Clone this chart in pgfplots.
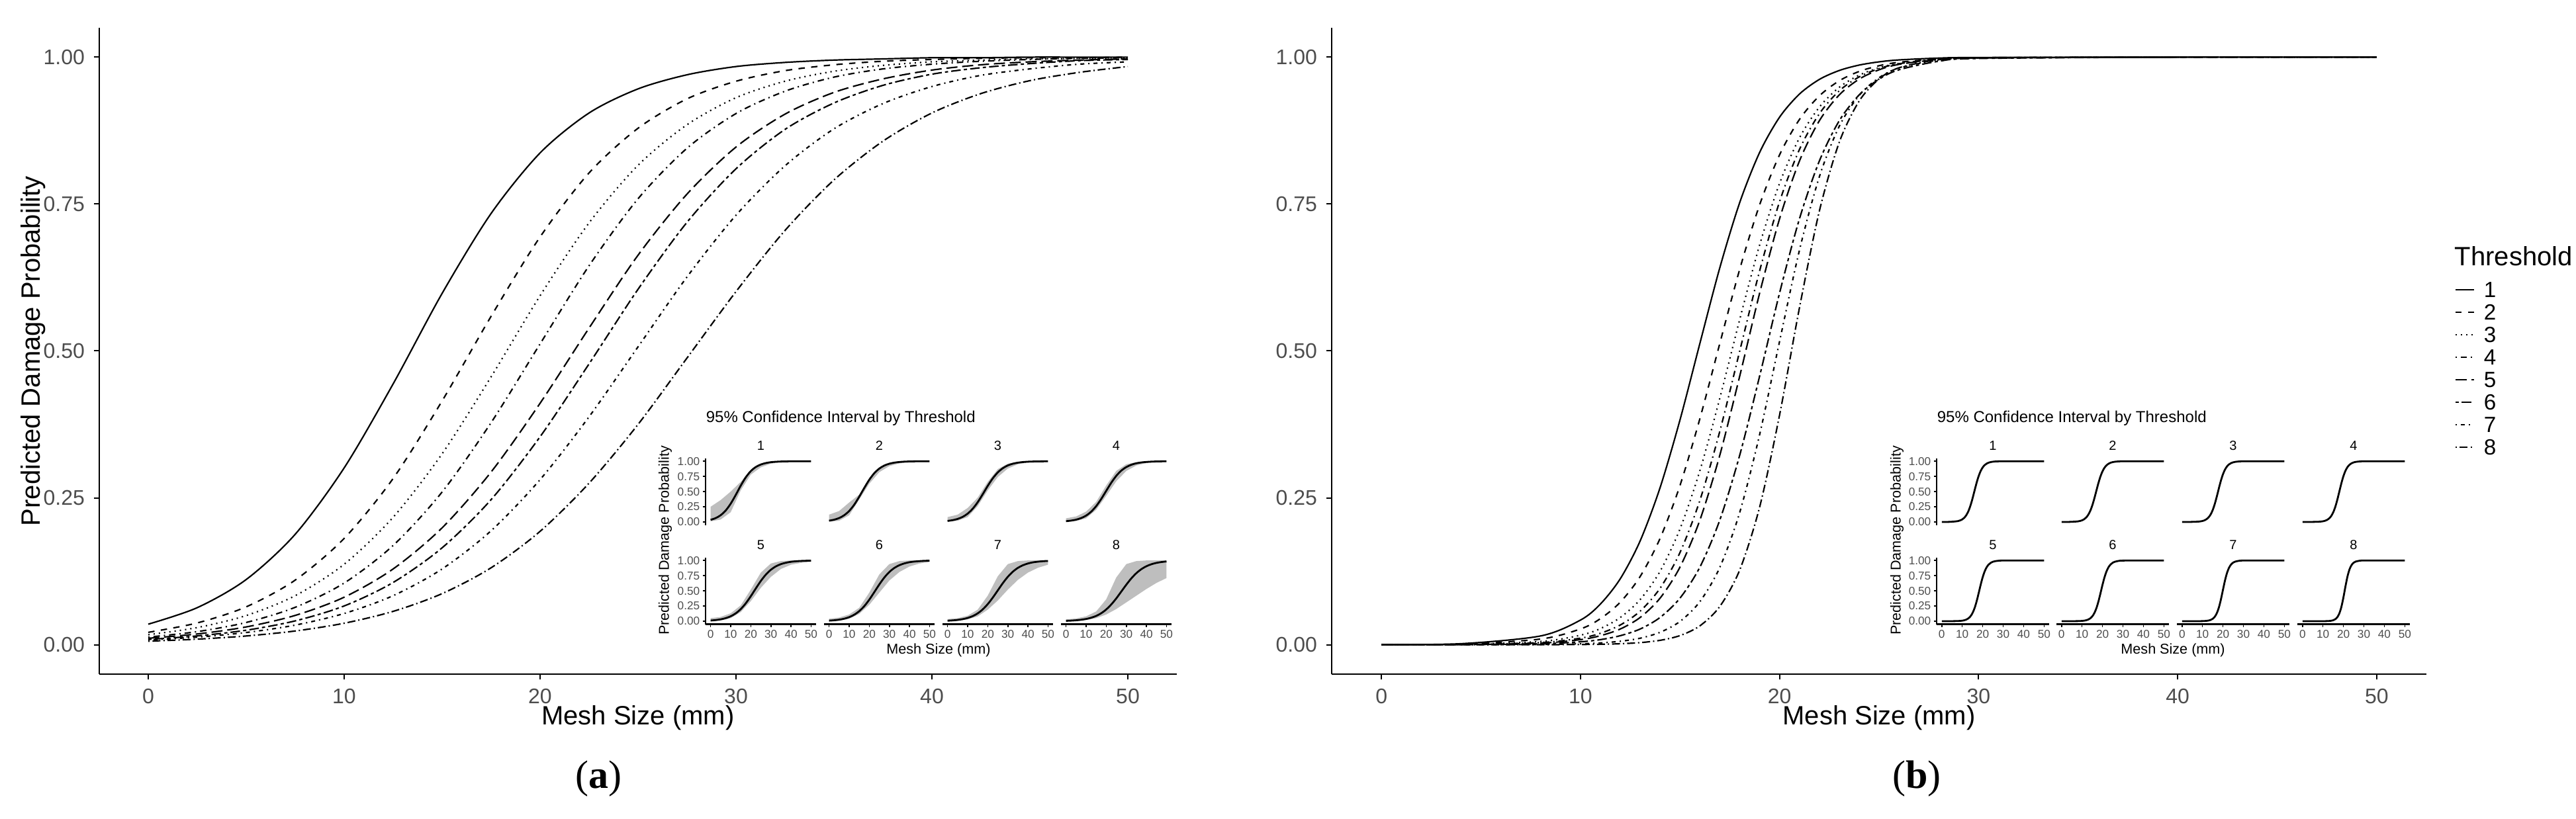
\documentclass[border=0pt]{standalone}
\usepackage{fontspec}
\setmainfont{Liberation Sans}
\newfontfamily\capserif{Liberation Serif}
\usepackage{pgfplots}
\pgfplotsset{compat=1.18}
\definecolor{tickgray}{HTML}{4D4D4D}
\definecolor{band}{HTML}{BEBEBE}

\newcommand\ftick{\fontsize{8}{9}\selectfont}
\newcommand\flab{\fontsize{10}{12}\selectfont}
\newcommand\fleg{\fontsize{8.3}{9}\selectfont}
\newcommand\fin{\fontsize{4.3}{5}\selectfont}
\newcommand\finlab{\fontsize{5.4}{6}\selectfont}
\newcommand\finstrip{\fontsize{5}{6}\selectfont}
\newcommand\fintitle{\fontsize{6}{7}\selectfont}

% predicted damage probability, model (a)
\pgfplotstableread{
x    c1    c2    c3    c4    c5    c6    c7    c8
0    0.0350 0.0211 0.0170 0.0130 0.0110 0.0090 0.0080 0.0060
2.5  0.0631 0.0371 0.0292 0.0223 0.0183 0.0150 0.0129 0.0095
5    0.111 0.0645 0.0497 0.0379 0.0303 0.0247 0.0208 0.0149
7.5  0.188 0.110 0.0835 0.0637 0.0499 0.0406 0.0334 0.0234
10   0.301 0.181 0.137 0.105 0.0809 0.0660 0.0532 0.0366
12.5 0.444 0.283 0.217 0.169 0.129 0.106 0.0835 0.0568
15   0.598 0.415 0.325 0.260 0.199 0.165 0.129 0.0870
17.5 0.734 0.559 0.456 0.378 0.294 0.247 0.194 0.131
20   0.837 0.694 0.594 0.512 0.411 0.354 0.281 0.193
22.5 0.905 0.803 0.718 0.645 0.539 0.478 0.388 0.275
25   0.946 0.879 0.816 0.759 0.663 0.605 0.507 0.375
27.5 0.970 0.929 0.885 0.845 0.767 0.719 0.626 0.488
30   0.984 0.959 0.931 0.904 0.847 0.810 0.731 0.601
32.5 0.991 0.977 0.959 0.942 0.903 0.877 0.815 0.705
35   0.995 0.987 0.976 0.966 0.940 0.922 0.878 0.791
37.5 0.997 0.993 0.986 0.980 0.963 0.952 0.921 0.857
40   0.999 0.996 0.992 0.988 0.978 0.971 0.950 0.905
42.5 0.999 0.998 0.995 0.993 0.987 0.982 0.969 0.938
45   1.000 0.999 0.997 0.996 0.992 0.989 0.980 0.960
47.5 1.000 0.999 0.998 0.998 0.995 0.994 0.988 0.974
50   1.000 1.000 0.999 0.999 0.997 0.996 0.992 0.984
}\lefttab

% 95% band of model (a): upper bound left to right, then lower bound back
\pgfplotstableread{
px b1    b2    b3    b4    b5    b6    b7    b8
0  0.25  0.12  0.08  0.06  0.05  0.04  0.035 0.03
5  0.36  0.18  0.12  0.09  0.07  0.06  0.05  0.045
10 0.50  0.32  0.23  0.17  0.13  0.11  0.09  0.08
15 0.66  0.45  0.40  0.33  0.26  0.22  0.19  0.16
20 0.86  0.72  0.66  0.60  0.52  0.47  0.42  0.36
25 0.96  0.90  0.87  0.84  0.80  0.77  0.74  0.72
30 0.995 0.97  0.96  0.95  0.95  0.94  0.94  0.94
35 1     0.99  0.99  0.985 0.99  0.99  0.99  0.99
40 1     1     1     0.995 1     1     1     1
45 1     1     1     1     1     1     1     1
50 1     1     1     1     1     1     1     1
50 1     1     1     0.995 0.98  0.975 0.93  0.71
45 0.998 0.995 0.99  0.985 0.96  0.95  0.88  0.63
40 0.995 0.985 0.98  0.97  0.93  0.90  0.80  0.53
35 0.985 0.965 0.95  0.93  0.86  0.81  0.68  0.42
30 0.96  0.92  0.88  0.84  0.73  0.67  0.52  0.31
25 0.90  0.82  0.74  0.67  0.55  0.47  0.34  0.20
20 0.78  0.63  0.52  0.43  0.33  0.27  0.19  0.11
15 0.52  0.37  0.26  0.20  0.15  0.12  0.08  0.05
10 0.16  0.11  0.08  0.06  0.05  0.04  0.03  0.02
5  0.04  0.02  0.02  0.015 0.012 0.01  0.008 0.005
0  0.01  0.005 0.005 0.003 0.003 0.002 0.002 0.001
}\bandtab

% predicted damage probability, model (b)
\pgfplotstableread{
x  r1     r2     r3     r4     r5     r6     r7     r8
0  0.0002 0.0002 0.0001 0.0000 0.0000 0.0000 0.0000 0.0000
4  0.0018 0.0012 0.0007 0.0004 0.0003 0.0002 0.0000 0.0000
8  0.0150 0.0097 0.0056 0.0037 0.0028 0.0016 0.0004 0.0001
10 0.0420 0.0269 0.0162 0.0112 0.0087 0.0050 0.0016 0.0004
11 0.0693 0.0444 0.0275 0.0195 0.0154 0.0087 0.0031 0.0008
12 0.1124 0.0725 0.0464 0.0336 0.0268 0.0154 0.0059 0.0017
13 0.1770 0.1163 0.0770 0.0573 0.0465 0.0268 0.0111 0.0036
14 0.2676 0.1812 0.1252 0.0963 0.0794 0.0465 0.0212 0.0075
15 0.3829 0.2713 0.1972 0.1571 0.1323 0.0794 0.0397 0.0156
16 0.5132 0.3851 0.2966 0.2460 0.2124 0.1323 0.0735 0.0322
17 0.6418 0.5130 0.4197 0.3635 0.3228 0.2124 0.1318 0.0652
18 0.7527 0.6392 0.5538 0.5000 0.4574 0.3228 0.2253 0.1274
19 0.8379 0.7488 0.6805 0.6365 0.5985 0.4574 0.3578 0.2344
20 0.8978 0.8337 0.7852 0.7540 0.7249 0.5985 0.5162 0.3908
21 0.9372 0.8940 0.8625 0.8429 0.8233 0.7249 0.6715 0.5735
22 0.9621 0.9341 0.9150 0.9037 0.8918 0.8233 0.7965 0.7381
23 0.9773 0.9598 0.9487 0.9427 0.9358 0.8918 0.8824 0.8552
24 0.9865 0.9757 0.9694 0.9664 0.9626 0.9358 0.9349 0.9253
25 0.9920 0.9854 0.9819 0.9805 0.9785 0.9626 0.9650 0.9629
26 0.9953 0.9913 0.9894 0.9888 0.9877 0.9785 0.9814 0.9819
28 0.9984 0.9969 0.9964 0.9963 0.9960 0.9930 0.9949 0.9958
30 0.9994 0.9989 0.9988 0.9988 0.9987 0.9978 0.9986 0.9990
40 1.0000 1.0000 1.0000 1.0000 1.0000 1.0000 1.0000 1.0000
50 1.0000 1.0000 1.0000 1.0000 1.0000 1.0000 1.0000 1.0000
}\righttab

\tikzset{
  th1/.style={solid},
  th2/.style={dash pattern=on 2.4pt off 2.4pt},
  th3/.style={dash pattern=on 0.5pt off 1.5pt},
  th4/.style={dash pattern=on 0.5pt off 1.5pt on 2.4pt off 1.5pt},
  th5/.style={dash pattern=on 4.2pt off 1.8pt},
  th6/.style={dash pattern=on 1.2pt off 1.2pt on 3.6pt off 1.2pt},
  th7/.style={dash pattern=on 0.5pt off 1.5pt on 1.5pt off 1.5pt},
  th8/.style={dash pattern=on 0.5pt off 1.1pt on 3pt off 1.1pt},
}

\pgfplotsset{
  mainax/.style={
    scale only axis, anchor=south west, height=244.25pt,
    xmin=-2.5, xmax=52.5, ymin=-0.05, ymax=1.05,
    axis x line*=bottom, axis y line*=left,
    axis line style={line width=0.6pt},
    tick align=outside, major tick length=2pt,
    tick style={black, line width=0.5pt},
    xtick={0,10,20,30,40,50}, xticklabels={0,10,20,30,40,50},
    ytick={0,0.25,0.5,0.75,1}, yticklabels={0.00,0.25,0.50,0.75,1.00},
    tick label style={font=\ftick, text=tickgray},
    label style={font=\flab},
    xlabel style={at={(axis description cs:0.5,-0.0676)}, anchor=center},
  },
  inset/.style={
    scale only axis, anchor=south west, height=25.25pt, clip=false,
    xmin=-2.5, xmax=52.5, ymin=-0.05, ymax=1.05,
    axis x line*=bottom, axis y line*=left,
    axis line style={line width=0.55pt},
    tick align=outside, major tick length=1pt,
    tick style={black, line width=0.4pt},
    xtick={0,10,20,30,40,50}, xticklabels={0,10,20,30,40,50},
    ytick={0,0.25,0.5,0.75,1}, yticklabels={0.00,0.25,0.50,0.75,1.00},
    tick label style={font=\fin, text=tickgray, inner sep=1pt},
  },
  nox/.style={xtick=\empty, x axis line style={draw=none}},
  noy/.style={ytick=\empty, y axis line style={draw=none}},
}

\newcommand{\lfacet}[4]{%
  \begin{axis}[inset, at={(#1,#2)}, width=41.75pt, #4]
    \addplot[fill=band, draw=none] table[x=px, y=b#3] {\bandtab} -- cycle;
    \addplot[black, line width=0.7pt, smooth] table[x=x, y=c#3] {\lefttab};
    \node[font=\finstrip, anchor=south, inner sep=0pt, yshift=2.8pt] at (axis description cs:0.5,1) {#3};
  \end{axis}}
\newcommand{\rfacet}[4]{%
  \begin{axis}[inset, at={(#1,#2)}, width=42.5pt, #4]
    \addplot[black, line width=0.7pt, smooth] table[x=x, y=r#3] {\righttab};
    \node[font=\finstrip, anchor=south, inner sep=0pt, yshift=2.8pt] at (axis description cs:0.5,1) {#3};
  \end{axis}}

\begin{document}
\begin{tikzpicture}
\useasboundingbox (0,0) rectangle (973pt,309.5pt);

% (a)
\begin{axis}[mainax, at={(37.5pt,54.75pt)}, width=407pt,
  xlabel={Mesh Size (mm)}, ylabel={Predicted Damage Probability},
  ylabel style={at={(axis description cs:-0.0614,0.5)}, anchor=center},
  every axis plot/.append style={black, line width=0.55pt, smooth}]
\addplot[th1] table[x=x, y=c1] {\lefttab};
\addplot[th2] table[x=x, y=c2] {\lefttab};
\addplot[th3] table[x=x, y=c3] {\lefttab};
\addplot[th4] table[x=x, y=c4] {\lefttab};
\addplot[th5] table[x=x, y=c5] {\lefttab};
\addplot[th6] table[x=x, y=c6] {\lefttab};
\addplot[th7] table[x=x, y=c7] {\lefttab};
\addplot[th8] table[x=x, y=c8] {\lefttab};
\end{axis}

% (b)
\begin{axis}[mainax, at={(503pt,54.75pt)}, width=413.5pt,
  xlabel={Mesh Size (mm)},
  every axis plot/.append style={black, line width=0.55pt, smooth},
  legend cell align=left,
  legend image code/.code={\draw[#1, line width=0.5pt] (0pt,0pt) -- (7pt,0pt);},
  legend style={at={(axis description cs:1.0254,0.609)}, anchor=north west,
    draw=none, fill=none, font=\fleg, inner sep=0pt, row sep=1.7pt, column sep=3pt,
    nodes={inner sep=0.5pt, text height=5.8pt, text depth=0pt}}]
\addplot[th1] table[x=x, y=r1] {\righttab};
\addplot[th2] table[x=x, y=r2] {\righttab};
\addplot[th3] table[x=x, y=r3] {\righttab};
\addplot[th4] table[x=x, y=r4] {\righttab};
\addplot[th5] table[x=x, y=r5] {\righttab};
\addplot[th6] table[x=x, y=r6] {\righttab};
\addplot[th7] table[x=x, y=r7] {\righttab};
\addplot[th8] table[x=x, y=r8] {\righttab};
\legend{1,2,3,4,5,6,7,8}
\end{axis}
\node[anchor=base west, font=\flab, inner sep=0pt] at (927pt,209pt) {Threshold};

% inset of (a)
\lfacet{266.5pt}{111.1pt}{1}{nox}
\lfacet{311.25pt}{111.1pt}{2}{nox, noy}
\lfacet{356pt}{111.1pt}{3}{nox, noy}
\lfacet{400.75pt}{111.1pt}{4}{nox, noy}
\lfacet{266.5pt}{73.6pt}{5}{}
\lfacet{311.25pt}{73.6pt}{6}{noy}
\lfacet{356pt}{73.6pt}{7}{noy}
\lfacet{400.75pt}{73.6pt}{8}{noy}
\node[anchor=west, font=\fintitle, inner sep=0pt] at (266.5pt,151.5pt) {95\% Confidence Interval by Threshold};
\node[rotate=90, font=\finlab, inner sep=0pt] at (251.25pt,105.25pt) {Predicted Damage Probability};
\node[font=\finlab, inner sep=0pt] at (354.5pt,63.75pt) {Mesh Size (mm)};

% inset of (b)
\rfacet{731.5pt}{111.1pt}{1}{nox}
\rfacet{776.75pt}{111.1pt}{2}{nox, noy}
\rfacet{822.25pt}{111.1pt}{3}{nox, noy}
\rfacet{867.75pt}{111.1pt}{4}{nox, noy}
\rfacet{731.5pt}{73.6pt}{5}{}
\rfacet{776.75pt}{73.6pt}{6}{noy}
\rfacet{822.25pt}{73.6pt}{7}{noy}
\rfacet{867.75pt}{73.6pt}{8}{noy}
\node[anchor=west, font=\fintitle, inner sep=0pt] at (731.5pt,151.5pt) {95\% Confidence Interval by Threshold};
\node[rotate=90, font=\finlab, inner sep=0pt] at (716.5pt,105.25pt) {Predicted Damage Probability};
\node[font=\finlab, inner sep=0pt] at (820.75pt,63.75pt) {Mesh Size (mm)};

\node[font=\capserif\fontsize{15}{18}\selectfont, inner sep=0pt] at (226pt,15.25pt) {(\textbf{a})};
\node[font=\capserif\fontsize{15}{18}\selectfont, inner sep=0pt] at (724pt,15.25pt) {(\textbf{b})};
\end{tikzpicture}
\end{document}
